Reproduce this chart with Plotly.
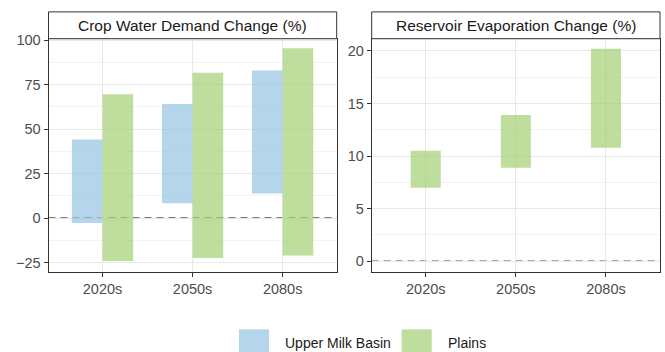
import plotly.graph_objects as go

# Projected change ranges (low / high) by period
periods = ["2020s", "2050s", "2080s"]

crop_umb_low = [-2.8, 8.3, 13.8]
crop_umb_high = [44.2, 64.2, 83.0]
crop_plains_low = [-24.2, -22.5, -21.0]
crop_plains_high = [69.7, 81.7, 95.5]

evap_plains_low = [7.0, 8.9, 10.8]
evap_plains_high = [10.5, 13.9, 20.2]

series_names = ["Upper Milk Basin", "Plains"]
panel_titles = ["Crop Water Demand Change (%)", "Reservoir Evaporation Change (%)"]

BLUE = "rgba(149,196,225,0.7)"
GREEN = "rgba(164,206,114,0.7)"
FONT = "Liberation Sans, Arial, sans-serif"

W, H = 665, 352
# panel boxes in pixels: (x0, x1)
panels = [(48.5, 336.7), (371.7, 660.0)]
py0, py1 = 33.3, 270.7
strip_top = 6.0


def px_x(v):
    return v / W


def px_y(v):
    return 1 - v / H


fig = go.Figure()

bw = 0.34
fig.add_trace(go.Bar(
    x=periods, y=[h - l for l, h in zip(crop_umb_low, crop_umb_high)], base=crop_umb_low,
    width=bw, offset=-bw, marker=dict(color=BLUE, line=dict(width=0)),
    xaxis="x", yaxis="y", name=series_names[0], showlegend=False))
fig.add_trace(go.Bar(
    x=periods, y=[h - l for l, h in zip(crop_plains_low, crop_plains_high)], base=crop_plains_low,
    width=bw, offset=0, marker=dict(color=GREEN, line=dict(width=0)),
    xaxis="x", yaxis="y", name=series_names[1], showlegend=False))
fig.add_trace(go.Bar(
    x=periods, y=[h - l for l, h in zip(evap_plains_low, evap_plains_high)], base=evap_plains_low,
    width=0.333, offset=-0.1665, marker=dict(color=GREEN, line=dict(width=0)),
    xaxis="x2", yaxis="y2", name=series_names[1], showlegend=False))

axis_common = dict(
    showline=True, mirror=True, linecolor="#333333", linewidth=1,
    ticks="outside", ticklen=4, tickcolor="#333333", tickwidth=1,
    tickfont=dict(family=FONT, size=14.5, color="#4d4d4d"),
    gridcolor="#e8e8e8", gridwidth=1, zeroline=False,
)

xr = [-0.6, 2.6]
layout = dict(
    width=W, height=H, margin=dict(l=0, r=0, t=0, b=0),
    paper_bgcolor="white", plot_bgcolor="white",
    showlegend=False, barmode="overlay",
    xaxis=dict(domain=[px_x(panels[0][0]), px_x(panels[0][1])], anchor="y",
               type="category", range=xr, **axis_common),
    yaxis=dict(domain=[px_y(py1), px_y(py0)], anchor="x", range=[-30.4, 100.9],
               tickvals=[-25, 0, 25, 50, 75, 100],
               minor=dict(tickvals=[-12.5, 12.5, 37.5, 62.5, 87.5], showgrid=True,
                          gridcolor="#f3f3f3", gridwidth=0.6, ticks=""),
               **axis_common),
    xaxis2=dict(domain=[px_x(panels[1][0]), px_x(panels[1][1])], anchor="y2",
                type="category", range=xr, **axis_common),
    yaxis2=dict(domain=[px_y(py1), px_y(py0)], anchor="x2", range=[-1.03, 21.16],
                tickvals=[0, 5, 10, 15, 20],
                minor=dict(tickvals=[2.5, 7.5, 12.5, 17.5], showgrid=True,
                           gridcolor="#f3f3f3", gridwidth=0.6, ticks=""),
                **axis_common),
)
fig.update_layout(**layout)

shapes = []
annotations = []

# dashed zero reference lines
for xa, ya in (("x", "y"), ("x2", "y2")):
    shapes.append(dict(type="line", xref=f"{xa} domain", yref=ya, x0=0, x1=1, y0=0, y1=0,
                       line=dict(color="#505050", width=1.4, dash="7px,5px"), layer="below"))

# facet strips
for (x0, x1), title in zip(panels, panel_titles):
    shapes.append(dict(type="rect", xref="paper", yref="paper",
                       x0=px_x(x0), x1=px_x(x1), y0=px_y(py0), y1=px_y(strip_top),
                       line=dict(color="#333333", width=1), fillcolor="white"))
    annotations.append(dict(xref="paper", yref="paper", x=px_x((x0 + x1) / 2),
                            y=px_y((strip_top + py0) / 2), text=title, showarrow=False,
                            xanchor="center", yanchor="middle",
                            font=dict(family=FONT, size=15.5, color="#1a1a1a")))

# legend
legend_items = [(series_names[0], BLUE, 239.0), (series_names[1], GREEN, 401.7)]
for name, col, kx in legend_items:
    shapes.append(dict(type="rect", xref="paper", yref="paper",
                       x0=px_x(kx), x1=px_x(kx + 30), y0=px_y(358), y1=px_y(329),
                       line=dict(width=0), fillcolor=col))
    annotations.append(dict(xref="paper", yref="paper", x=px_x(kx + 44), y=px_y(342.7),
                            text=name, showarrow=False, xanchor="left", yanchor="middle",
                            font=dict(family=FONT, size=14, color="#1a1a1a")))

fig.update_layout(shapes=shapes, annotations=annotations)

fig.write_html("out.html")
